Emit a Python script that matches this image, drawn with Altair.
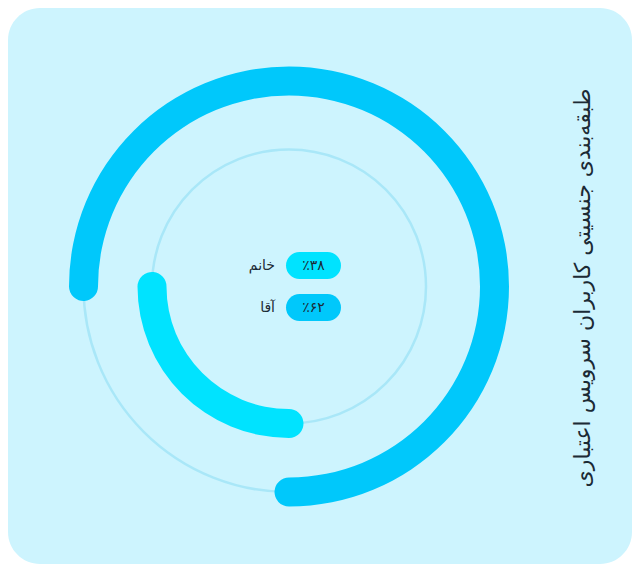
import math
import altair as alt
import pandas as pd

# ---- data ----
labels = ["خانم", "آقا"]
percents = [38, 62]
pill_texts = ["٪۳۸", "٪۶۲"]
# arc extent in degrees (0 = 12 o'clock, clockwise), cap centres
arc_start_deg = [180, -90]
arc_end_deg = [270, 180]
title_text = "طبقه‌بندی جنسیتی کاربران سرویس اعتباری"

# ---- styles / layout ----
FONT = "DejaVu Sans"
BG = "#cdf4fe"
TRACK = "#a9e7f8"
COLORS = ["#00e3ff", "#00c8fb"]
TEXT = "#1b2a35"
CX, CY = 281, 278.5
RING_R = {"خانم": 137, "آقا": 205.5}
HALF = 14.5

rows = []
for lab, p, t, s, e in zip(labels, percents, pill_texts, arc_start_deg, arc_end_deg):
    r = RING_R[lab]
    cap = math.degrees(HALF / r)
    rows.append({
        "label": lab, "pct": p, "pill": t,
        "r": r, "r_out": r + HALF, "r_in": r - HALF,
        "t0": math.radians(s - cap), "t1": math.radians(e + cap),
        "full0": 0.0, "full1": 2 * math.pi,
    })
df = pd.DataFrame(rows)

color = alt.Color("label:N", scale=alt.Scale(domain=labels, range=COLORS), legend=None)

tracks = alt.Chart(df).mark_arc(fillOpacity=0, stroke=TRACK, strokeWidth=2.5).encode(
    theta=alt.Theta("full0:Q", scale=None),
    theta2="full1:Q",
    radius=alt.Radius("r:Q", scale=None),
    x=alt.value(CX), y=alt.value(CY),
)

arcs = alt.Chart(df).mark_arc(cornerRadius=HALF).encode(
    theta=alt.Theta("t0:Q", scale=None),
    theta2="t1:Q",
    radius=alt.Radius("r_out:Q", scale=None),
    radius2="r_in:Q",
    color=color,
    x=alt.value(CX), y=alt.value(CY),
)

ypos = alt.Y("label:N", scale=alt.Scale(type="point", domain=labels, range=[257.5, 299.5], padding=0), axis=None)

pills = alt.Chart(df).mark_rule(strokeWidth=27, strokeCap="round").encode(
    y=ypos, x=alt.value(291.5), x2=alt.value(319.5), color=color,
)
pill_txt = alt.Chart(df).mark_text(font=FONT, fontSize=14, color=TEXT, align="center", baseline="middle").encode(
    y=ypos, x=alt.value(305.5), text="pill:N",
)
lab_txt = alt.Chart(df).mark_text(font=FONT, fontSize=14, color=TEXT, align="right", baseline="middle").encode(
    y=ypos, x=alt.value(267), text="label:N",
)

title = alt.Chart(pd.DataFrame({"t": [title_text]})).mark_text(
    font=FONT, fontSize=22, color=TEXT, angle=270, align="center", baseline="middle"
).encode(x=alt.value(575), y=alt.value(280), text="t:N")

chart = alt.layer(tracks, arcs, pills, pill_txt, lab_txt, title).properties(
    width=624, height=556, padding=0, background="white",
    autosize=alt.AutoSizeParams(type="fit", contains="padding"),
).configure_view(fill=BG, stroke=None, cornerRadius=32)

chart.save("out.html", embed_options={"renderer": "svg", "actions": False})
